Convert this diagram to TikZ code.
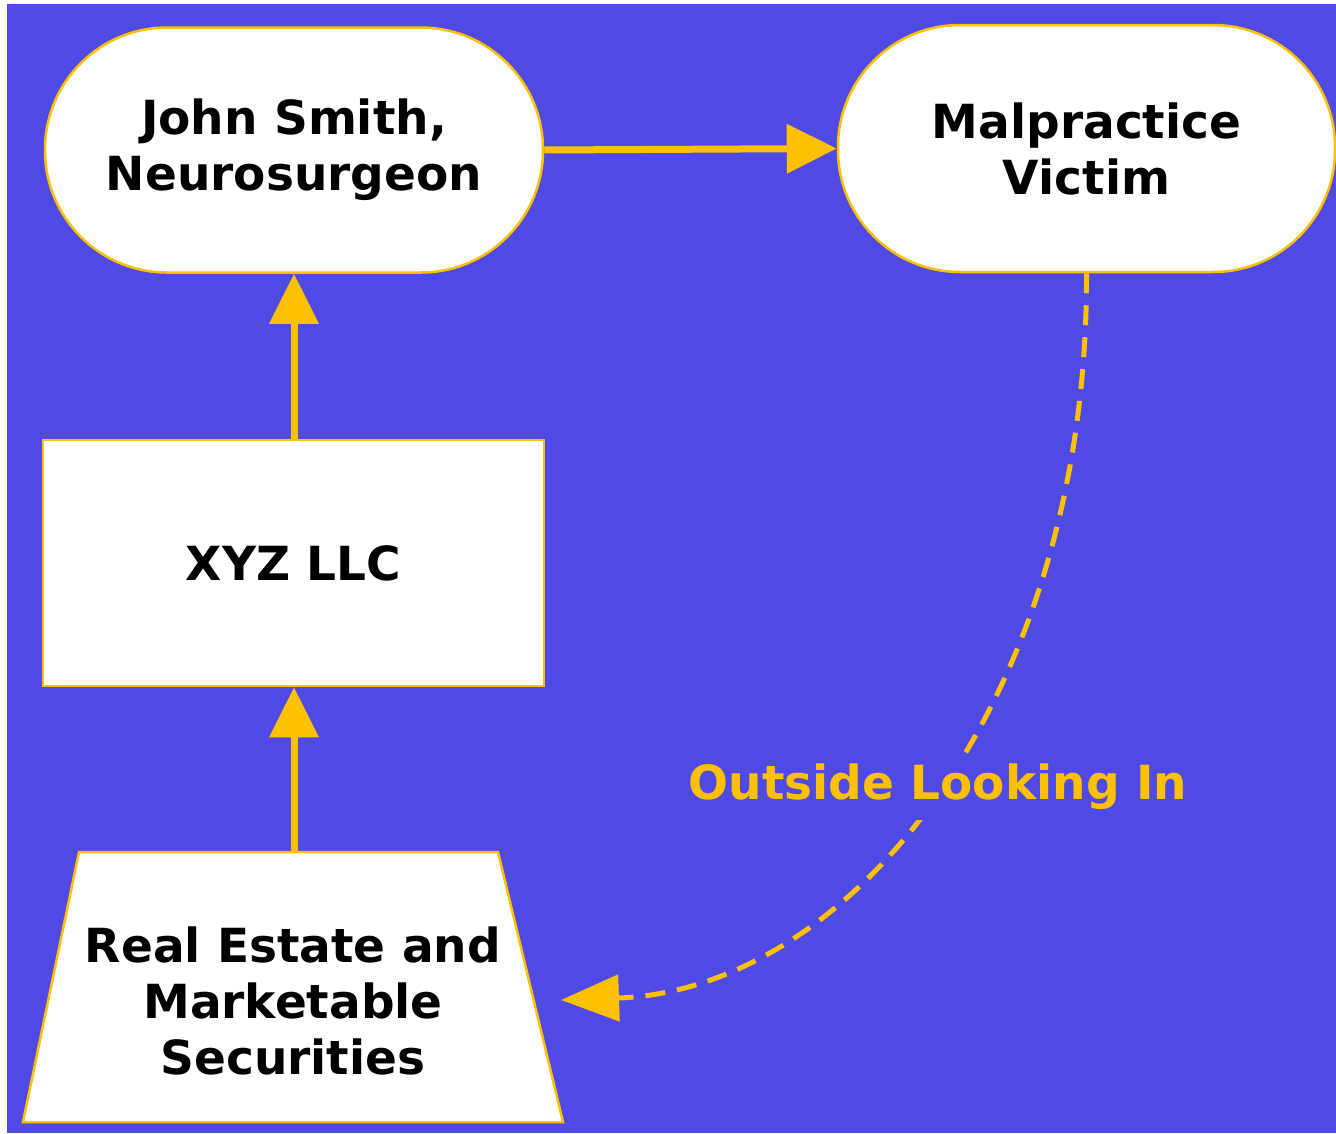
\documentclass[tikz,border=0pt]{standalone}
\usepackage{fontspec}
\setmainfont{DejaVu Sans}
\usetikzlibrary{arrows.meta,shapes.geometric}
\definecolor{bgblue}{RGB}{79,74,227}
\definecolor{gold}{RGB}{255,192,0}
\begin{document}
\begin{tikzpicture}[x=1pt,y=-1pt,
  txt/.style={font=\fontsize{47}{56}\selectfont\bfseries, align=center, text=black},
  box/.style={draw=gold, line width=2.5pt, fill=white, inner sep=0pt},
  pill/.style={box, rectangle, rounded corners=122pt, minimum width=498pt, minimum height=245pt, txt},
  arr/.style={draw=gold, line width=7pt, -{Triangle[length=50pt,width=48pt]}},
  darr/.style={draw=gold, line width=5pt, dash pattern=on 20pt off 12pt, -{Triangle[length=58pt,width=46pt]}},
  lbl/.style={font=\fontsize{47}{56}\selectfont\bfseries, text=gold, fill=bgblue, inner xsep=4pt, inner ysep=10pt}
]
\useasboundingbox (0,0) rectangle (1336,1133);
\fill[white] (0,0) rectangle (1336,1133);
\fill[bgblue] (7,4) rectangle (1336,1133);

\node[pill] (john) at (294,150) {John Smith,\\Neurosurgeon};
\node[pill, minimum width=497pt, minimum height=247pt] (victim) at (1086.5,148.5) {Malpractice\\Victim};
\node[box, rectangle, minimum width=501pt, minimum height=246pt, txt] (xyz) at (293.5,563) {XYZ LLC};

% trapezoid holding the assets
\coordinate (assetsnw) at (79,852);
\coordinate (assetsne) at (498,852);
\coordinate (assetsse) at (563,1122);
\coordinate (assetssw) at (23,1122);
\coordinate (assetstop) at (294,852);
\filldraw[box] (assetsnw) -- (assetsne) -- (assetsse) -- (assetssw) -- cycle;
\node[txt] (assets) at (293,1001) {Real Estate and\\Marketable\\Securities};

\coordinate (dend) at (561,1000);

\draw[arr] (john.east) -- (victim.west);
\draw[arr] (xyz.north -| john.south) -- (john.south);
\draw[arr] (assetstop) -- (xyz.south -| assetstop);
\draw[darr] (victim.south) .. controls (1088,700) and (850,990) .. (dend);
\node[lbl] (outside) at (938,787) {Outside Looking In};
\end{tikzpicture}
\end{document}
